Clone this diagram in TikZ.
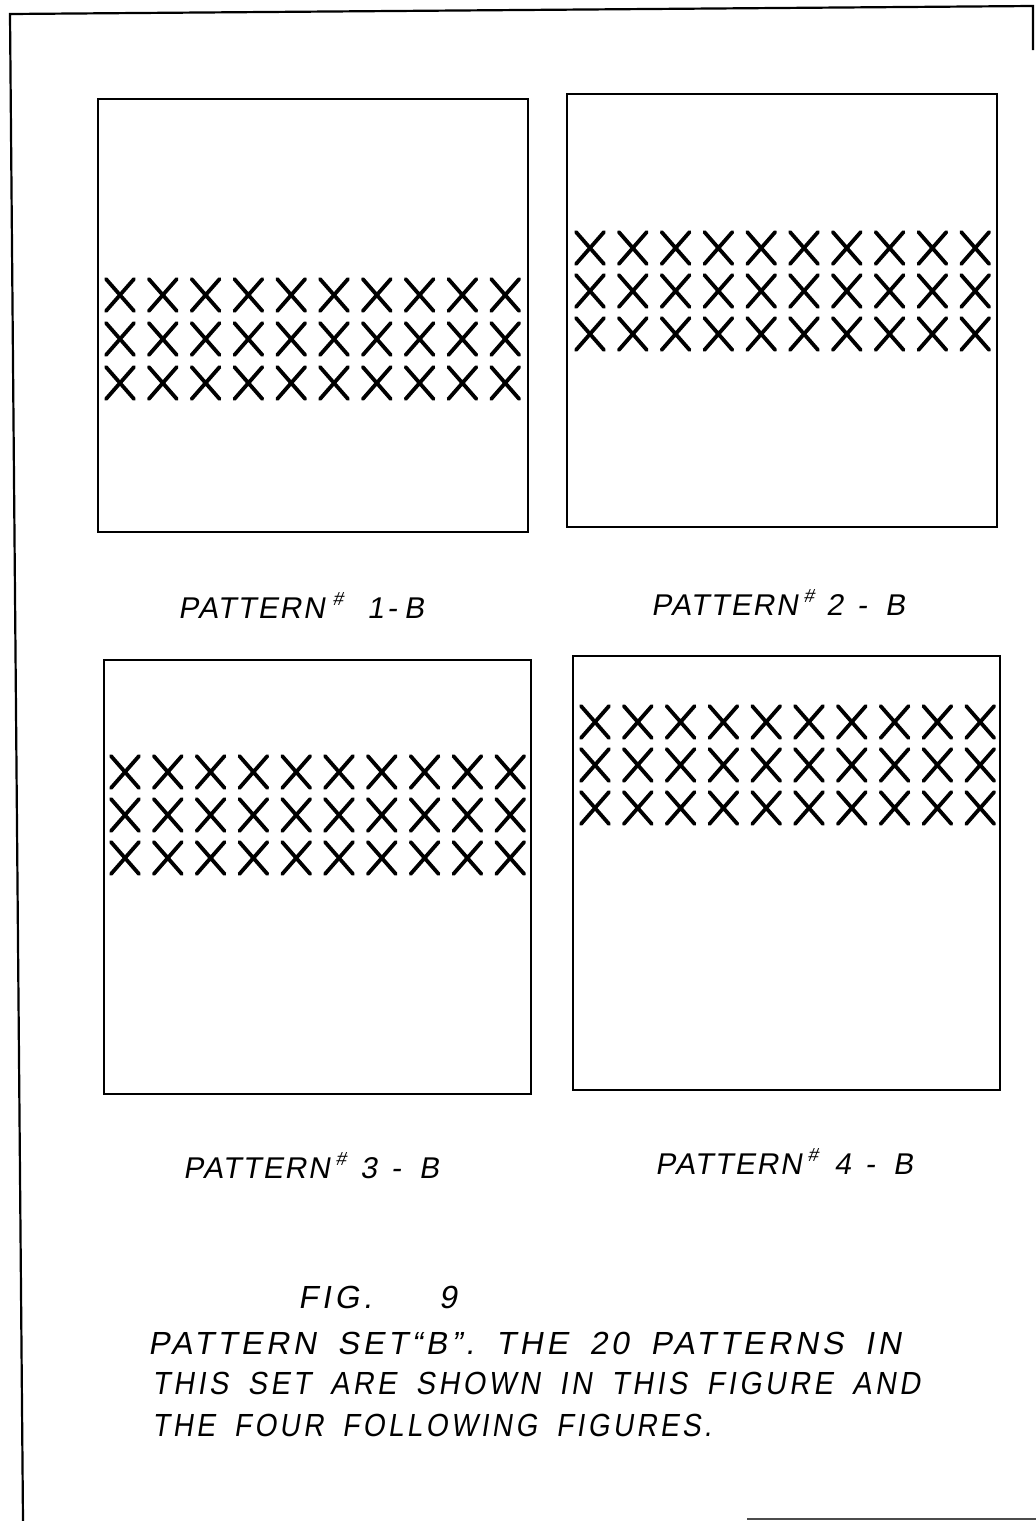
\documentclass[tikz,border=0pt]{standalone}
\usepackage{fontspec}
\newfontfamily\hand[FakeSlant=0.18, LetterSpace=12, WordSpace=1.7]{Liberation Sans}
\newfontfamily\handlab[FakeSlant=0.18, LetterSpace=6, WordSpace=1.5]{Liberation Sans}
\newcommand{\hsh}{\raisebox{13pt}{\fontsize{19}{19}\selectfont\#}}
\newcommand{\dsh}{\hspace{14pt}-\hspace{18pt}}
\begin{document}
\begin{tikzpicture}[x=1pt,y=-1pt,
  frame/.style={line width=2.2pt,black},
  box/.style={draw,line width=2.6pt,inner sep=0pt},
  xstroke/.style={line width=3.8pt,line cap=round},
  lab/.style={inner sep=0pt,anchor=base west,font=\handlab\fontsize{30}{34}\selectfont},
  captxt/.style={inner sep=0pt,anchor=base west,font=\hand\fontsize{32}{36}\selectfont}]
\useasboundingbox (0,0) rectangle (1036,1521);
% outer frame (partial, as scanned)
\coordinate (ftl) at (10,14);
\coordinate (ftr) at (1033,6);
\coordinate (fbl) at (23,1521);
\coordinate (frb) at (1033,50);
\coordinate (fb1) at (747,1519);
\coordinate (fb2) at (1036,1519);
\draw[frame] (fbl) -- (ftl) -- (ftr) -- (frb);
\draw[line width=1.6pt,black!70] (fb1) -- (fb2);
% pattern boxes
\node[box,minimum width=430,minimum height=433] (p1) at (313,315.5) {};
\node[box,minimum width=430,minimum height=433] (p2) at (782,310.5) {};
\node[box,minimum width=427,minimum height=434] (p3) at (317.5,877) {};
\node[box,minimum width=427,minimum height=434] (p4) at (786.5,873) {};
% crosses
\newcommand{\xrows}[4]{%
  \foreach \r in {#2,#3,#4}{
    \foreach \i in {0,...,9}{
      \pgfmathsetmacro{\cx}{#1+42.8*\i}
      \draw[xstroke] (\cx-14,\r-16) -- (\cx+14,\r+16) (\cx-14,\r+16) -- (\cx+14,\r-16);
    }}}
\xrows{120}{295}{339}{383}
\xrows{590}{248}{291}{334}
\xrows{125}{772}{815}{858}
\xrows{595}{722}{765}{808}
% labels
\node[lab] (l1) at (178,618) {PATTERN\hspace{8pt}\hsh\hspace{24pt}1\hspace{3pt}-\hspace{7pt}B};
\node[lab] (l2) at (651,615) {PATTERN\hspace{6pt}\hsh\hspace{12pt}2\dsh B};
\node[lab] (l3) at (183,1178) {PATTERN\hspace{6pt}\hsh\hspace{14pt}3\dsh B};
\node[lab] (l4) at (655,1174) {PATTERN\hspace{6pt}\hsh\hspace{16pt}4\dsh B};
% caption
\node[captxt] (c0) at (298,1308) {FIG.\hspace{67pt}9};
\node[captxt] (c1) at (148,1354) {PATTERN SET“B”. THE 20 PATTERNS IN};
\node[captxt] (c2) at (152,1394) {\scalebox{0.9}[1]{THIS SET ARE SHOWN IN THIS FIGURE AND}};
\node[captxt] (c3) at (152,1436) {\scalebox{0.875}[1]{THE FOUR FOLLOWING FIGURES.}};
\end{tikzpicture}
\end{document}
